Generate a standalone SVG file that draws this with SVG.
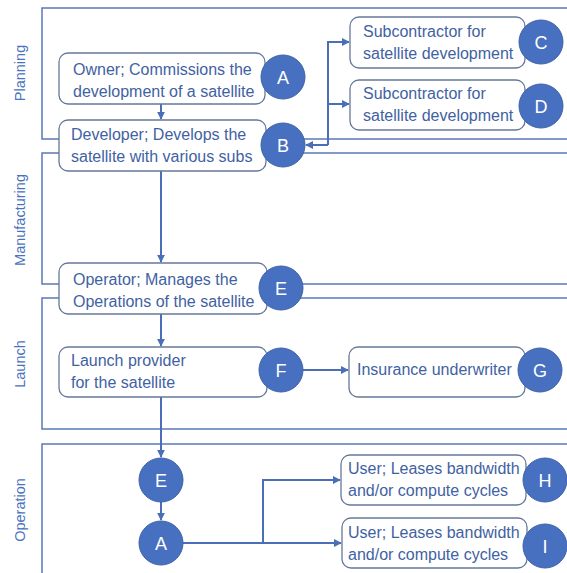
<svg xmlns="http://www.w3.org/2000/svg" width="567" height="573" viewBox="0 0 567 573">
<style>
.lane{fill:none;stroke:#5a78b8;stroke-width:1.5}
.lbl{font-family:"Liberation Sans",Arial,sans-serif;font-size:14.5px;fill:#4a72c0;text-anchor:middle}
.box{fill:#fff;stroke:#66789a;stroke-width:1.3}
.t{font-family:"Liberation Sans",Arial,sans-serif;font-size:16px;fill:#3f62a2}
.c{fill:#4770c0;stroke:#3f62a8;stroke-width:1}
.ct{font-family:"Liberation Sans",Arial,sans-serif;font-size:18px;fill:#fff;text-anchor:middle}
.cn{fill:none;stroke:#4a6fb8;stroke-width:2}
</style>
<defs>
<marker id="ah" viewBox="0 0 10 10" refX="9" refY="5" markerWidth="4" markerHeight="4" orient="auto">
<path d="M0,0 L10,5 L0,10 z" fill="#4a6fb8"/>
</marker>
</defs>
<rect width="567" height="573" fill="#fff"/>
<g id="lanes">
<path class="lane" d="M567,8 H42 V139 H567"/>
<path class="lane" d="M567,153 H42 V284 H567"/>
<path class="lane" d="M567,298 H42 V429 H567"/>
<path class="lane" d="M567,444 H42 V573"/>
<text class="lbl" transform="translate(25,73) rotate(-90)">Planning</text>
<text class="lbl" transform="translate(25,220) rotate(-90)">Manufacturing</text>
<text class="lbl" transform="translate(25,364) rotate(-90)">Launch</text>
<text class="lbl" transform="translate(25,510) rotate(-90)">Operation</text>
</g>
<g id="connectors">
<path class="cn" d="M161,104 V119" marker-end="url(#ah)"/>
<path class="cn" d="M161,171 V262" marker-end="url(#ah)"/>
<path class="cn" d="M161,314 V346" marker-end="url(#ah)"/>
<path class="cn" d="M161,397 V457" marker-end="url(#ah)"/>
<path class="cn" d="M161,502 V520" marker-end="url(#ah)"/>
<path class="cn" d="M328,145 H306" marker-end="url(#ah)"/>
<path class="cn" d="M328,145 V42 H349" marker-end="url(#ah)"/>
<path class="cn" d="M328,104 H349" marker-end="url(#ah)"/>
<path class="cn" d="M303,370 H348" marker-end="url(#ah)"/>
<path class="cn" d="M183,543 H341" marker-end="url(#ah)"/>
<path class="cn" d="M263,543 V480 H340" marker-end="url(#ah)"/>
</g>
<g id="nodeA">
<rect class="box" x="59" y="53" width="206" height="51" rx="9"/>
<text class="t" x="73" y="75">Owner; Commissions the</text>
<text class="t" x="73" y="97">development of a satellite</text>
<circle class="c" cx="283" cy="77" r="22"/>
<text class="ct" x="283" y="83.5">A</text>
</g>
<g id="nodeB">
<rect class="box" x="59" y="120" width="207" height="51" rx="9"/>
<text class="t" x="71" y="140">Developer; Develops the</text>
<text class="t" x="71" y="162">satellite with various subs</text>
<circle class="c" cx="283" cy="145" r="22"/>
<text class="ct" x="283" y="151.5">B</text>
</g>
<g id="nodeC">
<rect class="box" x="350" y="17" width="175" height="51" rx="9"/>
<text class="t" x="363" y="37">Subcontractor for</text>
<text class="t" x="363" y="59">satellite development</text>
<circle class="c" cx="541" cy="42" r="22"/>
<text class="ct" x="541" y="48.5">C</text>
</g>
<g id="nodeD">
<rect class="box" x="350" y="80" width="175" height="50" rx="9"/>
<text class="t" x="363" y="99">Subcontractor for</text>
<text class="t" x="363" y="121">satellite development</text>
<circle class="c" cx="541" cy="106" r="22"/>
<text class="ct" x="541" y="112.5">D</text>
</g>
<g id="nodeE">
<rect class="box" x="59" y="263" width="208" height="51" rx="9"/>
<text class="t" x="73" y="285">Operator; Manages the</text>
<text class="t" x="73" y="307">Operations of the satellite</text>
<circle class="c" cx="281" cy="288" r="22"/>
<text class="ct" x="281" y="294.5">E</text>
</g>
<g id="nodeF">
<rect class="box" x="59" y="347" width="208" height="50" rx="9"/>
<text class="t" x="71" y="366">Launch provider</text>
<text class="t" x="71" y="388">for the satellite</text>
<circle class="c" cx="281" cy="370" r="22"/>
<text class="ct" x="281" y="376.5">F</text>
</g>
<g id="nodeG">
<rect class="box" x="349" y="347" width="176" height="50" rx="9"/>
<text class="t" x="357" y="375">Insurance underwriter</text>
<circle class="c" cx="540" cy="370" r="22"/>
<text class="ct" x="540" y="376.5">G</text>
</g>
<g id="nodeE2">
<circle class="c" cx="161" cy="480" r="22"/>
<text class="ct" x="161" y="486.5">E</text>
</g>
<g id="nodeA2">
<circle class="c" cx="161" cy="543" r="22"/>
<text class="ct" x="161" y="549.5">A</text>
</g>
<g id="nodeH">
<rect class="box" x="341" y="455" width="185" height="50" rx="9"/>
<text class="t" x="348" y="474">User; Leases bandwidth</text>
<text class="t" x="348" y="496">and/or compute cycles</text>
<circle class="c" cx="545" cy="480" r="22"/>
<text class="ct" x="545" y="486.5">H</text>
</g>
<g id="nodeI">
<rect class="box" x="342" y="518" width="185" height="50" rx="9"/>
<text class="t" x="348" y="538">User; Leases bandwidth</text>
<text class="t" x="348" y="560">and/or compute cycles</text>
<circle class="c" cx="545" cy="546" r="22"/>
<text class="ct" x="545" y="552.5">I</text>
</g>
</svg>
